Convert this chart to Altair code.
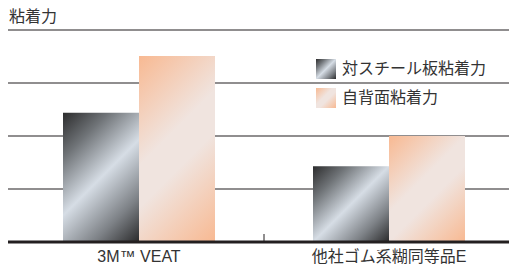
import altair as alt
import pandas as pd

# ---- data ----
chart_title = "粘着力"
categories = ["3M™ VEAT", "他社ゴム系糊同等品E"]
series = ["対スチール板粘着力", "自背面粘着力"]
steel_values = [2.44, 1.43]
back_values = [3.51, 2.0]
grid_values = [1, 2, 3, 4]
baseline_value = [0]

# ---- layout constants ----
W, H = 495, 212
Y_MAX = 4
PX_PER_UNIT = H / Y_MAX
BAR_W = 76
INK = "#231f20"
TXT = "#333333"
CJK = "Noto Sans CJK JP"
LATIN = "Liberation Sans Narrow, Liberation Sans, Noto Sans CJK JP"

metal_stops = [(0, "#2c2c2d"), (0.22, "#6f7377"), (0.5, "#d6dde5"),
               (0.78, "#7d8186"), (1, "#2a2a2b")]
peach_stops = [(0, "#f8b992"), (0.42, "#f0e4df"), (0.58, "#f0e4df"), (1, "#f8b992")]


def diag_gradient(stops, w, h):
    s = (w + h) / (w * w + h * h)
    return alt.Gradient(
        gradient="linear",
        stops=[alt.GradientStop(offset=o, color=c) for o, c in stops],
        x1=0, y1=0, x2=w * s, y2=h * s,
    )


rows = []
for c, v in zip(categories, steel_values):
    rows.append({"category": c, "series": series[0], "value": v})
for c, v in zip(categories, back_values):
    rows.append({"category": c, "series": series[1], "value": v})
df = pd.DataFrame(rows)

x_scale = alt.Scale(domain=categories, range=[0, 500], paddingInner=0.392, paddingOuter=0.196)
y_scale = alt.Scale(domain=[0, Y_MAX], nice=False, zero=True)
xo_scale = alt.Scale(domain=series, paddingInner=0, paddingOuter=0)

grid = alt.Chart(pd.DataFrame({"v": grid_values})).mark_rule(
    color=INK, strokeWidth=1.2
).encode(
    y=alt.Y("v:Q", scale=y_scale, axis=None),
    x=alt.value(-7), x2=alt.value(510),
)

bar_layers = []
for s_i, s in enumerate(series):
    vals = steel_values if s_i == 0 else back_values
    stops = metal_stops if s_i == 0 else peach_stops
    for c, v in zip(categories, vals):
        g = diag_gradient(stops, BAR_W, v * PX_PER_UNIT)
        layer = alt.Chart(df).transform_filter(
            (alt.datum.category == c) & (alt.datum.series == s)
        ).mark_bar(color=g, opacity=1).encode(
            x=alt.X("category:N", scale=x_scale, axis=None),
            xOffset=alt.XOffset("series:N", scale=xo_scale),
            y=alt.Y("value:Q", scale=y_scale, axis=None),
        )
        bar_layers.append(layer)

base_df = pd.DataFrame({"v": baseline_value})
baseline = alt.Chart(base_df).mark_rule(color=INK, strokeWidth=3).encode(
    y=alt.Y("v:Q", scale=y_scale, axis=None),
    x=alt.value(-7), x2=alt.value(510),
)
mid_tick = alt.Chart(base_df).mark_rule(color=INK, strokeWidth=1).encode(
    x=alt.value(250), y=alt.value(H - 8), y2=alt.value(H),
)

labels = alt.Chart(pd.DataFrame({"category": categories})).mark_text(
    font=LATIN, fontSize=16, color=TXT, baseline="middle", align="center"
).encode(
    x=alt.X("category:N", scale=x_scale, axis=None),
    y=alt.value(H + 15),
    text="category:N",
)

title = alt.Chart(pd.DataFrame({"t": [chart_title]})).mark_text(
    font=CJK, fontSize=16, color=TXT, baseline="middle", align="left"
).encode(x=alt.value(-5), y=alt.value(-13), text="t:N")

leg_df = pd.DataFrame({"series": series})
legend_layers = []
leg_y = [29, 58]
for s_i, s in enumerate(series):
    stops = metal_stops if s_i == 0 else peach_stops
    legend_layers.append(
        alt.Chart(leg_df).transform_filter(alt.datum.series == s).mark_rect(
            color=diag_gradient(stops, 20, 20), opacity=1
        ).encode(
            x=alt.value(302), x2=alt.value(322),
            y=alt.value(leg_y[s_i]), y2=alt.value(leg_y[s_i] + 20),
        )
    )
    legend_layers.append(
        alt.Chart(leg_df).transform_filter(alt.datum.series == s).mark_text(
            font=CJK, fontSize=16, color=TXT, baseline="middle", align="left"
        ).encode(
            x=alt.value(328), y=alt.value(leg_y[s_i] + 10), text="series:N",
        )
    )

chart = alt.layer(
    grid, *bar_layers, baseline, mid_tick, labels, title, *legend_layers
).properties(
    width=W, height=H,
    padding={"left": 6, "top": 22, "right": 0, "bottom": 22},
    autosize=alt.AutoSizeParams(type="none"),
    background="white",
).configure_view(strokeWidth=0)

chart.save("out.html", embed_options={"renderer": "svg", "actions": False})
